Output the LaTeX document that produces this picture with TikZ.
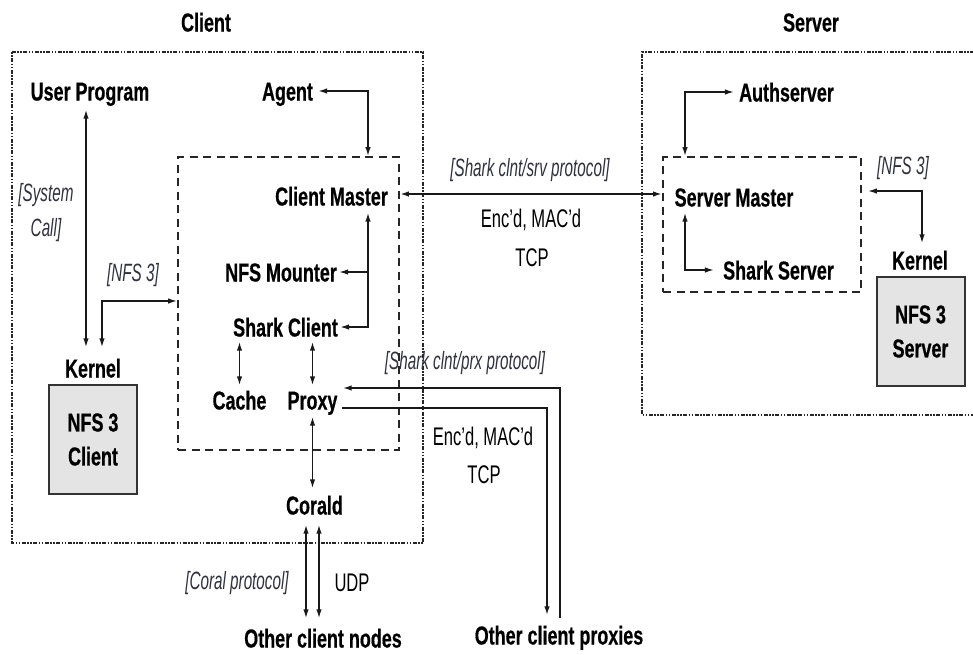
\documentclass[tikz,border=0pt]{standalone}
\usepackage{fontspec}
\newfontfamily\lblfont[FakeStretch=0.69, BoldFeatures={FakeBold=0.5}]{Liberation Sans}
\newfontfamily\plainfont[FakeStretch=0.65]{Liberation Sans}
\newfontfamily\notefont[FakeStretch=0.61]{Liberation Sans}
\usetikzlibrary{arrows.meta}
\definecolor{notecol}{RGB}{48,48,62}
\definecolor{boxfill}{RGB}{228,228,228}
\tikzset{
  comp/.style={font=\lblfont\bfseries\fontsize{26}{34}\selectfont, inner sep=2pt,
               text height=19pt, text depth=0pt},
  note/.style={font=\notefont\itshape\fontsize{25}{35}\selectfont, text=notecol,
               inner sep=1pt, align=center},
  plain/.style={font=\plainfont\fontsize{25.5}{30}\selectfont, inner sep=1pt},
  hostbox/.style={draw=black!85, line width=1.2pt,
                  dash pattern=on 1.5pt off 1.5pt on 1.5pt off 1.5pt on 4pt off 1.5pt},
  procbox/.style={draw=black!85, line width=1.8pt, dash pattern=on 8pt off 5.5pt,
                  inner sep=0pt},
  kbox/.style={draw=black!80, line width=2pt, fill=boxfill, minimum width=88pt,
               minimum height=109pt, align=center, inner sep=0pt,
               font=\lblfont\bfseries\fontsize{26}{34}\selectfont},
  link/.style={line width=1.5pt, draw=black!90},
  wire/.style={line width=2pt, draw=black!90},
  >={Latex[length=9pt,width=5.5pt]}
}
\begin{document}
\begin{tikzpicture}[x=1pt,y=-1pt]
\useasboundingbox (0,0) rectangle (973,654);

% host outlines
\draw[hostbox] (12,52) rectangle (423,543);
\draw[hostbox] (980,52) -- (642,52) -- (642,415) -- (980,415);
\node[comp] (client) at (206,22) {Client};
\node[comp] (server) at (811,22) {Server};

% process groups
\node[procbox, minimum width=221pt, minimum height=293pt] (cbox) at (288.5,303.5) {};
\node[procbox, minimum width=198pt, minimum height=135pt] (sbox) at (762,224.5) {};

% client components
\node[comp] (user)    at (90,91)    {User Program};
\node[comp] (agent)   at (287.5,91) {Agent};
\node[comp] (cm)      at (331.5,196) {Client Master};
\node[comp] (mount)   at (281,272)  {NFS Mounter};
\node[comp] (sc)      at (285.5,327) {Shark Client};
\node[comp] (cache)   at (239.5,400) {Cache};
\node[comp] (proxy)   at (312.5,400) {Proxy};
\node[comp] (coral)   at (314.5,505) {Corald};
\node[comp] (kernelC) at (93,368)   {Kernel};
\node[kbox] (nfsc)    at (93,439.5) {NFS 3\\Client};
\node[comp] (ocn)     at (323,638)  {Other client nodes};
\node[comp] (ocp)     at (559,635)  {Other client proxies};

% server components
\node[comp] (auth)    at (786.5,92) {Authserver};
\node[comp] (sm)      at (734,197)  {Server Master};
\node[comp] (ss)      at (778.5,270) {Shark Server};
\node[comp] (kernelS) at (920,260)  {Kernel};
\node[kbox] (nfss)    at (920.5,331.5) {NFS 3\\Server};

% protocol labels
\node[note]  (syscall) at (46,212.5) {[System\\Call]};
\node[note]  (nfsone)  at (133,275) {[NFS 3]};
\node[note]  (csproto) at (530,170) {[Shark clnt/srv protocol]};
\node[plain] (encA)    at (531,220) {Enc’d, MAC’d};
\node[plain] (tcpA)    at (532,258) {TCP};
\node[note]  (cpproto) at (465,363) {[Shark clnt/prx protocol]};
\node[plain] (encB)    at (483,438) {Enc’d, MAC’d};
\node[plain] (tcpB)    at (484,475) {TCP};
\node[note]  (coralp)  at (237,583) {[Coral protocol]};
\node[plain] (udp)     at (352,583) {UDP};
\node[note]  (nfstwo)  at (903,168) {[NFS 3]};

% helper positions for the routed connectors
\coordinate (xbus) at (368,0);
\coordinate (xsys) at (86,0);
\coordinate (xnfs) at (102,0);
\coordinate (ynfs) at (0,301);
\coordinate (ycs)  at (0,194);
\coordinate (xca)  at (306,0);
\coordinate (xcb)  at (319,0);
\coordinate (xpa)  at (560,0);
\coordinate (xpb)  at (547,0);
\coordinate (ypa)  at (0,388);
\coordinate (ypb)  at (0,408);
\coordinate (xsm)  at (685,0);
\coordinate (xks)  at (922,0);
\coordinate (yks)  at (0,191);

% client side connectors
\draw[link,<->, shorten <=3pt] (agent.east) -| (cbox.north -| xbus);
\draw[link,<->, shorten <=5pt] (cm.south -| xbus) |- (sc.east);
\draw[link,->] (mount.east -| xbus) -- (mount.east);
\draw[link,<->, shorten <=7pt, shorten >=9pt] (user.south -| xsys) -- (kernelC.north -| xsys);
\draw[link,<->, shorten <=9pt] (kernelC.north -| xnfs) |- (cbox.west |- ynfs);
\draw[link,<->, shorten <=3pt, shorten >=3pt] (sc.south -| cache) -- (cache.north);
\draw[link,<->, shorten <=3pt, shorten >=3pt] (sc.south -| proxy) -- (proxy.north);
\draw[link,<->, shorten <=5pt, shorten >=5pt] (proxy.south) -- (coral.north -| proxy);
\draw[link,<->, shorten <=8pt, shorten >=8pt] (coral.south -| xca) -- (ocn.north -| xca);
\draw[link,<->, shorten <=8pt, shorten >=8pt] (coral.south -| xcb) -- (ocn.north -| xcb);

% client proxy to other proxies
\draw[wire,->, shorten <=5pt, shorten >=3pt] (ocp.north -| xpa) |- (proxy.east |- ypa);
\draw[wire,->, shorten <=2pt, shorten >=8pt] (proxy.east |- ypb) -| (ocp.north -| xpb);

% client master to server master
\draw[line width=2.4pt, draw=black!90, <->] (cbox.east |- ycs) -- (sbox.west |- ycs);

% server side connectors
\draw[link,<->, shorten <=3pt] (auth.west) -| (sbox.north -| xsm);
\draw[link,<->, shorten <=4pt, shorten >=7pt] (sm.south -| xsm) |- (ss.west);
\draw[link,<->, shorten <=6pt, shorten >=5pt] (sbox.east |- yks) -| (kernelS.north -| xks);
\end{tikzpicture}
\end{document}
